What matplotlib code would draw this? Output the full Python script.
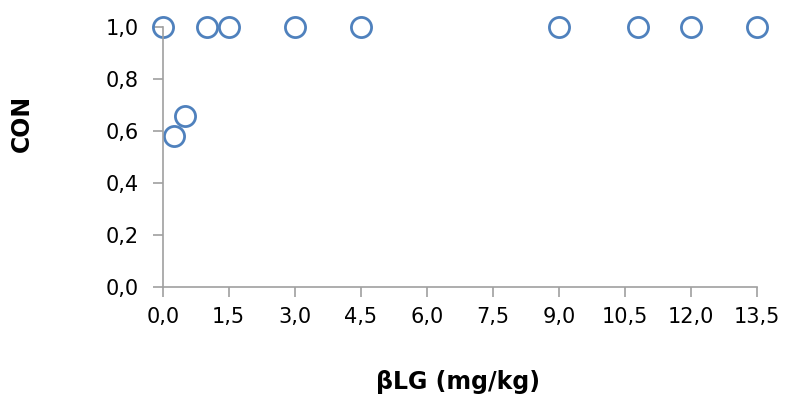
import numpy as np
import matplotlib.pyplot as plt

# dados
dose = [0.0, 0.25, 0.5, 1.0, 1.5, 3.0, 4.5, 9.0, 10.8, 12.0, 13.5]
con = [1.0, 0.58, 0.66, 1.0, 1.0, 1.0, 1.0, 1.0, 1.0, 1.0, 1.0]
xticks = np.arange(0, 13.6, 1.5)
yticks = np.arange(0, 1.01, 0.2)

plt.rcParams['font.family'] = ['DejaVu Sans']

fig = plt.figure(figsize=(7.86, 3.98), dpi=100)
ax = fig.add_axes([0.207, 0.280, 0.756, 0.651])

ax.plot(dose, con, 'o', markersize=14.5, markerfacecolor='none',
        markeredgecolor='#4f81bd', markeredgewidth=2, clip_on=False)

ax.set_xlim(0, 13.5)
ax.set_ylim(0, 1.0)
ax.set_xticks(xticks)
ax.set_yticks(yticks)
ax.set_xticklabels([f'{v:.1f}'.replace('.', ',') for v in xticks])
ax.set_yticklabels([f'{v:.1f}'.replace('.', ',') for v in yticks])

for s in ['top', 'right']:
    ax.spines[s].set_visible(False)
for s in ['left', 'bottom']:
    ax.spines[s].set_color('#a0a0a0')
    ax.spines[s].set_linewidth(1.2)
ax.tick_params(colors='#a0a0a0', labelcolor='black', labelsize=15,
               length=7, width=1.2)
ax.tick_params(axis='x', pad=8)
ax.tick_params(axis='y', pad=10)

fig.text(0.028, 0.69, 'CON', rotation=90, fontsize=17, fontweight='bold',
         ha='center', va='center')
fig.text(0.583, 0.04, 'βLG (mg/kg)', fontsize=17, fontweight='bold',
         ha='center', va='center')

fig.savefig('out.png')
